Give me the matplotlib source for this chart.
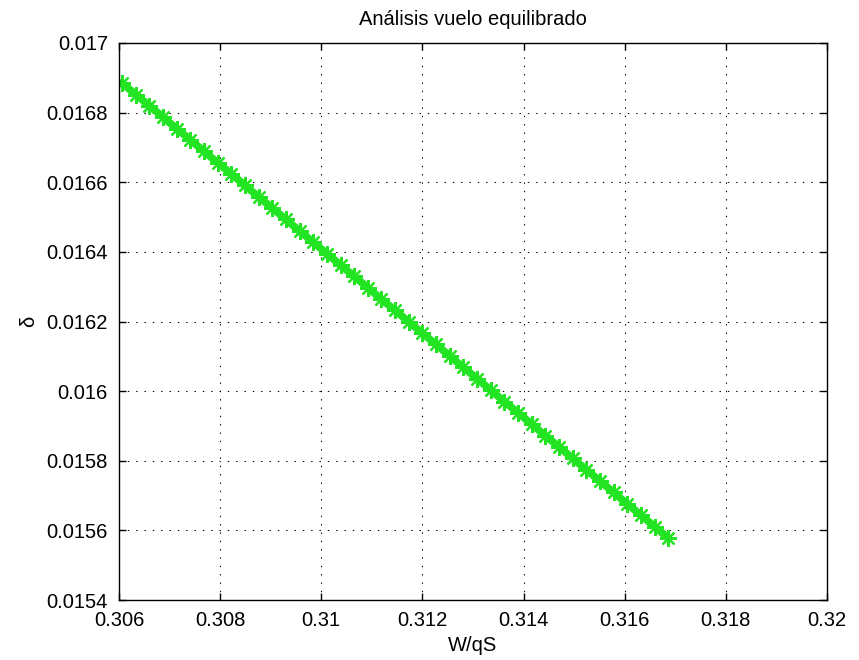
import matplotlib
matplotlib.use("Agg")
import matplotlib.pyplot as plt
from matplotlib.ticker import FixedLocator, FixedFormatter

plt.rcParams['font.family'] = ['Liberation Sans', 'DejaVu Sans']

# Data
w_qs = [0.30606, 0.30633, 0.30660, 0.30687, 0.30714, 0.30741, 0.30768, 0.30795,
        0.30822, 0.30849, 0.30876, 0.30903, 0.30930, 0.30957, 0.30984, 0.31011,
        0.31038, 0.31065, 0.31092, 0.31119, 0.31146, 0.31173, 0.31200, 0.31227,
        0.31254, 0.31281, 0.31308, 0.31335, 0.31362, 0.31389, 0.31416, 0.31443,
        0.31470, 0.31497, 0.31524, 0.31551, 0.31578, 0.31605, 0.31632, 0.31659,
        0.31686]
delta = [0.016885, 0.016852, 0.016820, 0.016787, 0.016754, 0.016722, 0.016689,
         0.016656, 0.016624, 0.016591, 0.016558, 0.016526, 0.016493, 0.016460,
         0.016428, 0.016395, 0.016362, 0.016330, 0.016297, 0.016264, 0.016232,
         0.016199, 0.016166, 0.016134, 0.016101, 0.016068, 0.016036, 0.016003,
         0.015970, 0.015938, 0.015905, 0.015872, 0.015840, 0.015807, 0.015774,
         0.015742, 0.015709, 0.015676, 0.015644, 0.015611, 0.015578]

x_ticks = [0.306, 0.308, 0.310, 0.312, 0.314, 0.316, 0.318, 0.320]
x_labels = ['0.306', '0.308', '0.31', '0.312', '0.314', '0.316', '0.318', '0.32']
y_ticks = [0.0154, 0.0156, 0.0158, 0.0160, 0.0162, 0.0164, 0.0166, 0.0168, 0.0170]
y_labels = ['0.0154', '0.0156', '0.0158', '0.016', '0.0162', '0.0164', '0.0166',
            '0.0168', '0.017']

title = 'Análisis vuelo equilibrado'
xlabel = 'W/qS'
ylabel = 'δ'

fig = plt.figure(figsize=(8.59, 6.6), dpi=100)
ax = fig.add_axes([119/859, 60/660, (827-119)/859, (600-43)/660])

green = '#22e422'
ax.plot(w_qs, delta, color=green, linestyle='-', linewidth=5.5,
        solid_capstyle='round')
ax.plot(w_qs, delta, color=green, linestyle='none',
        marker=(8, 2, 0), markersize=12, markeredgewidth=1.6)

ax.set_xlim(0.306, 0.320)
ax.set_ylim(0.0154, 0.0170)
ax.xaxis.set_major_locator(FixedLocator(x_ticks))
ax.xaxis.set_major_formatter(FixedFormatter(x_labels))
ax.yaxis.set_major_locator(FixedLocator(y_ticks))
ax.yaxis.set_major_formatter(FixedFormatter(y_labels))

ax.grid(True, color='black', linestyle=(0, (1.33, 6.67)), linewidth=0.75)
ax.set_axisbelow(True)
ax.tick_params(direction='in', length=5, width=1, top=True, right=True,
               labelsize=14.5, colors='black', pad=8)
for sp in ax.spines.values():
    sp.set_linewidth(1.0)

ax.set_title(title, fontsize=14.5, pad=13)
ax.set_xlabel(xlabel, fontsize=14.5, labelpad=4)
ax.set_ylabel(ylabel, fontsize=14.5, labelpad=6)

fig.savefig('out.png', dpi=100)
